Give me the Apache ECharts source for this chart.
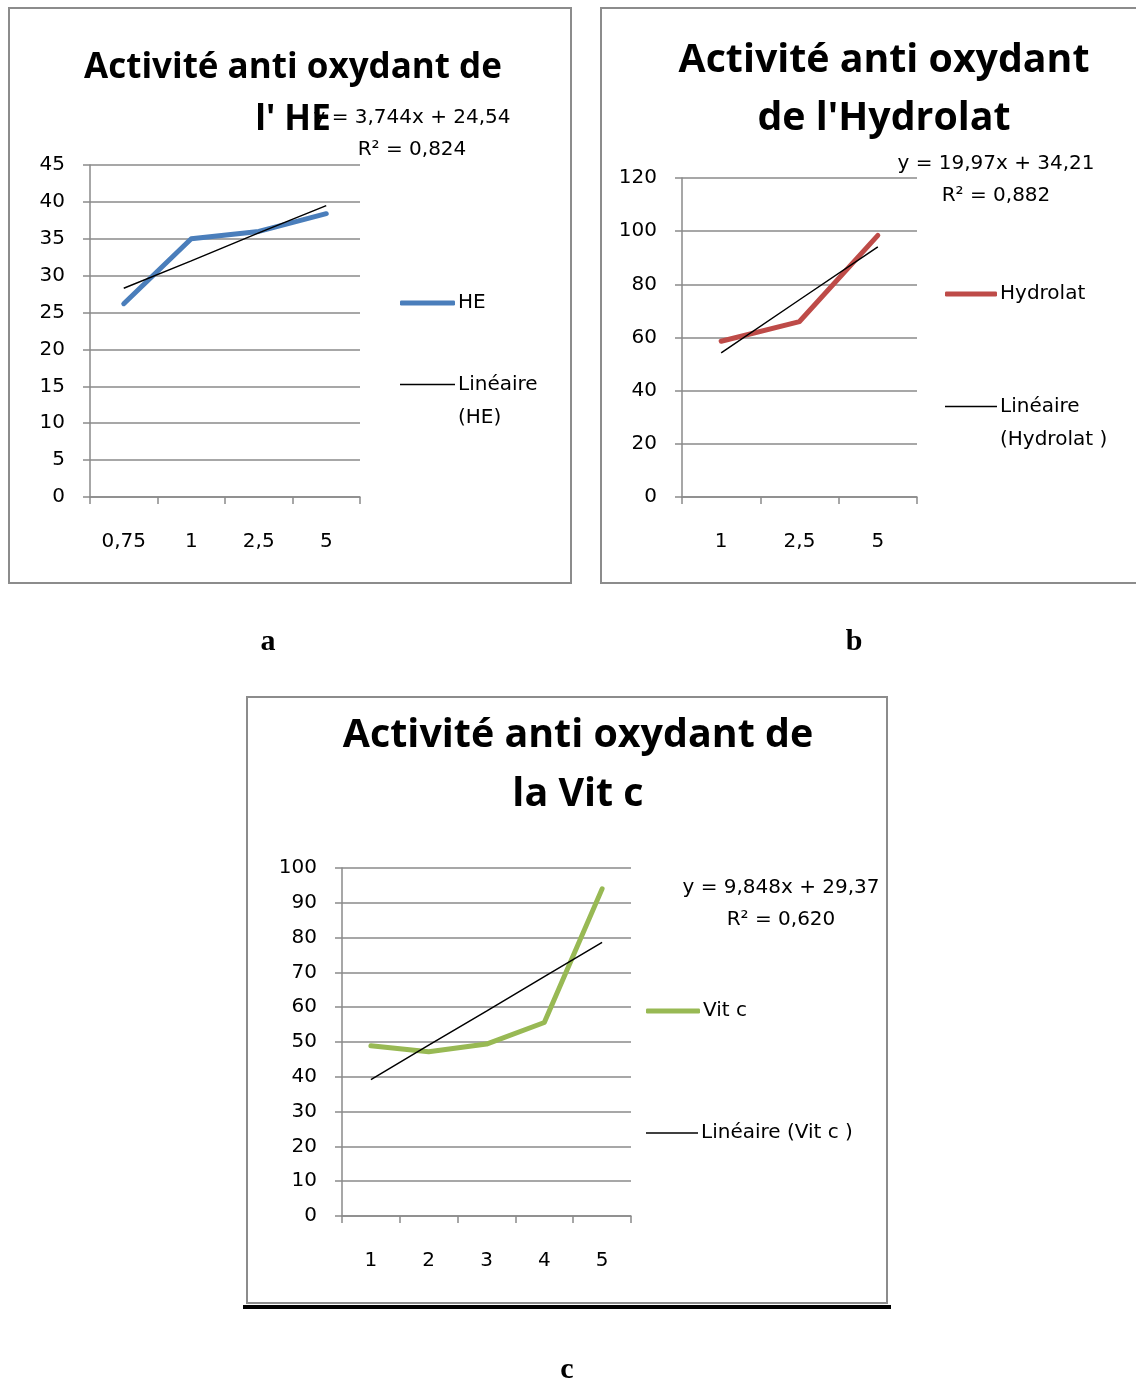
<!DOCTYPE html>
<html>
<head>
<meta charset="utf-8">
<script src="https://cdn.jsdelivr.net/npm/echarts@6/dist/echarts.min.js"></script>
<style>
html,body{margin:0;padding:0;background:#fff;}
#main{width:1136px;height:1380px;}
</style>
</head>
<body>
<div id="main"></div>
<script>
// ---- Data ----
const catsHE = ['0,75', '1', '2,5', '5'];
const valsHE = [26.2, 35.0, 36.0, 38.4];
const trendHE = [28.3, 32.0, 35.8, 39.5];

const catsHydro = ['1', '2,5', '5'];
const valsHydro = [58.6, 66.0, 98.4];
const trendHydro = [54.2, 74.2, 94.1];

const catsVitC = ['1', '2', '3', '4', '5'];
const valsVitC = [48.9, 47.2, 49.4, 55.6, 94.0];
const trendVitC = [39.2, 49.1, 58.9, 68.8, 78.6];

const eqHE = 'y = 3,744x + 24,54\nR² = 0,824';
const eqHydro = 'y = 19,97x + 34,21\nR² = 0,882';
const eqVitC = 'y = 9,848x + 29,37\nR² = 0,620';

// ---- Styles ----
const FONT = 'DejaVu Sans';
const TFONT = 'Open Sans';
const GRID_C = '#8a8a8a';
const chart = echarts.init(document.getElementById('main'), null, {renderer: 'canvas'});

function xAx(gi, cats) {
  return {
    type: 'category', gridIndex: gi, data: cats, boundaryGap: true,
    axisLine: {lineStyle: {color: GRID_C, width: 1.5}},
    axisTick: {show: true, length: 7, lineStyle: {color: GRID_C, width: 1.5}},
    axisLabel: {color: '#000', fontFamily: FONT, fontSize: 20, margin: 33, lineHeight: 24}
  };
}
function yAx(gi, max, interval) {
  return {
    type: 'value', gridIndex: gi, min: 0, max: max, interval: interval,
    axisLine: {show: true, lineStyle: {color: GRID_C, width: 1.5}},
    axisTick: {show: true, length: 7, lineStyle: {color: GRID_C, width: 1.5}},
    splitLine: {show: true, lineStyle: {color: GRID_C, width: 1.5}},
    axisLabel: {color: '#000', fontFamily: FONT, fontSize: 20, margin: 25}
  };
}
function dataSeries(name, gi, vals, color) {
  return {
    name: name, type: 'line', xAxisIndex: gi, yAxisIndex: gi, data: vals,
    symbol: 'none', showSymbol: false, silent: true,
    lineStyle: {color: color, width: 5, cap: 'round', join: 'round'},
    itemStyle: {color: color}, z: 3
  };
}
function trendSeries(name, gi, vals) {
  return {
    name: name, type: 'line', xAxisIndex: gi, yAxisIndex: gi, data: vals,
    symbol: 'none', showSymbol: false, silent: true,
    lineStyle: {color: '#000', width: 1.5},
    itemStyle: {color: '#000'}, z: 4
  };
}
const legendNames = {
  'HE': 'HE',
  'Linéaire (HE)': '\nLinéaire\n(HE)',
  'Hydrolat': 'Hydrolat',
  'Linéaire (Hydrolat )': '\nLinéaire\n(Hydrolat )',
  'Vit c': 'Vit c',
  'Linéaire (Vit c )': 'Linéaire (Vit c )'
};
function leg(name, left, top, iw, lh, thick) {
  return {
    data: [{name: name, icon: thick ? 'roundRect' : 'rect'}],
    left: left, top: top, padding: 0, orient: 'vertical',
    itemWidth: iw, itemHeight: thick ? 5 : 1.5, selectedMode: false,
    itemStyle: {borderWidth: 0},
    formatter: n => legendNames[n],
    textStyle: {color: '#000', fontFamily: FONT, fontSize: 20, lineHeight: lh, padding: [0,0,0,-2]}
  };
}
function ttl(text, cx, top, size, lh, bold, family) {
  return {
    text: text, left: cx, top: top, padding: 0, textAlign: 'center',
    textStyle: {color: '#000', fontFamily: family || FONT, fontSize: size,
      fontWeight: bold ? 'bold' : 'normal', lineHeight: lh}
  };
}

const option = {
  animation: false,
  backgroundColor: '#fff',
  title: [
    ttl('Activité anti oxydant de\nl\' HE', 293, 42, 35, 52, true, TFONT),
    ttl('Activité anti oxydant\nde l\'Hydrolat', 884, 32, 39.3, 58, true, TFONT),
    ttl('Activité anti oxydant de\nla Vit c', 578, 706, 39.4, 59, true, TFONT),
    ttl(eqHE, 412, 102, 20, 32, false),
    ttl(eqHydro, 996, 148, 20, 32, false),
    ttl(eqVitC, 781, 872, 20, 32, false),
    ttl('a', 268, 625, 30, 34, true, 'Liberation Serif'),
    ttl('b', 854, 625, 30, 34, true, 'Liberation Serif'),
    ttl('c', 567, 1353, 30, 34, true, 'Liberation Serif')
  ],
  grid: [
    {left: 90, top: 165, width: 270, height: 332},
    {left: 682, top: 178, width: 235, height: 319},
    {left: 342, top: 868, width: 289, height: 348}
  ],
  xAxis: [xAx(0, catsHE), xAx(1, catsHydro), xAx(2, catsVitC)],
  yAxis: [yAx(0, 45, 5), yAx(1, 120, 20), yAx(2, 100, 10)],
  legend: [
    leg('HE', 400, 287, 55, 32, true),
    leg('Linéaire (HE)', 400, 335, 55, 33, false),
    leg('Hydrolat', 945, 278, 52, 32, true),
    leg('Linéaire (Hydrolat )', 945, 357, 52, 33, false),
    leg('Vit c', 646, 995, 54, 32, true),
    leg('Linéaire (Vit c )', 646, 1117, 52, 32, false)
  ],
  series: [
    dataSeries('HE', 0, valsHE, '#4a7ebb'),
    trendSeries('Linéaire (HE)', 0, trendHE),
    dataSeries('Hydrolat', 1, valsHydro, '#be4b48'),
    trendSeries('Linéaire (Hydrolat )', 1, trendHydro),
    dataSeries('Vit c', 2, valsVitC, '#98b954'),
    trendSeries('Linéaire (Vit c )', 2, trendVitC)
  ],
  graphic: [
    {type: 'rect', shape: {x: 9, y: 8, width: 562, height: 575}, style: {fill: 'none', stroke: '#8c8c8c', lineWidth: 2}, z: -1},
    {type: 'rect', shape: {x: 601, y: 8, width: 560, height: 575}, style: {fill: 'none', stroke: '#8c8c8c', lineWidth: 2}, z: -1},
    {type: 'rect', shape: {x: 247, y: 697, width: 640, height: 606}, style: {fill: 'none', stroke: '#8c8c8c', lineWidth: 2}, z: -1},
    {type: 'line', shape: {x1: 243, y1: 1307, x2: 891, y2: 1307}, style: {stroke: '#000', lineWidth: 4}, z: -1}
  ]
};
chart.setOption(option);
</script>
</body>
</html>
